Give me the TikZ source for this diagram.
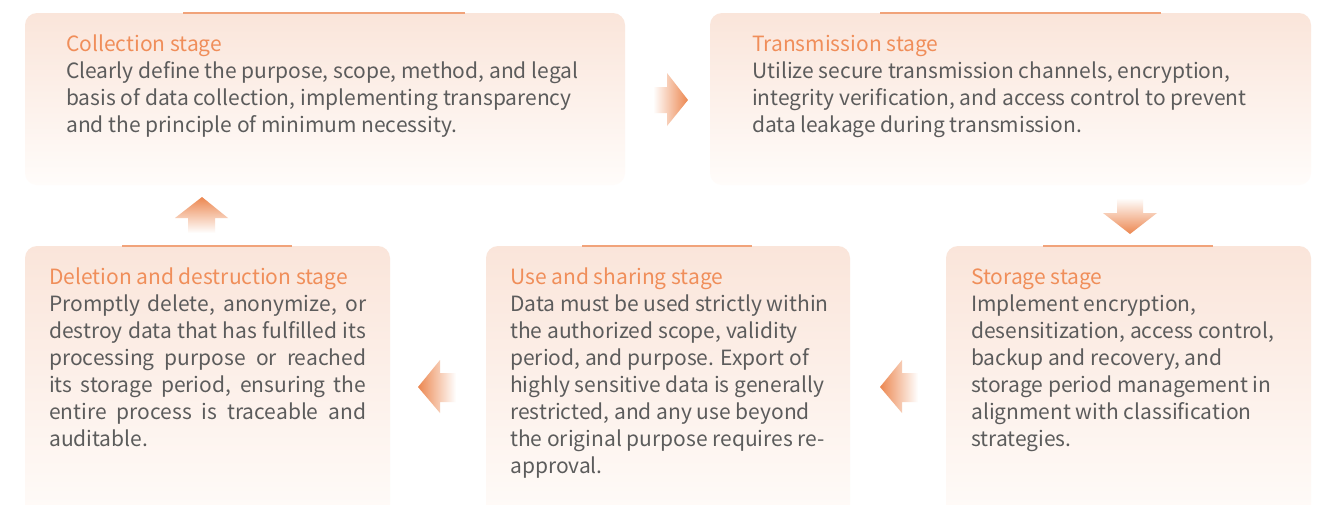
\documentclass[tikz,border=0pt]{standalone}
\usepackage{fontspec}
\setmainfont{Noto Sans CJK SC}
\definecolor{peach}{RGB}{250,229,218}
\definecolor{peachlow}{RGB}{255,252,250}
\definecolor{accent}{RGB}{241,163,122}
\definecolor{titlec}{RGB}{240,142,90}
\definecolor{bodyc}{RGB}{92,92,92}
\definecolor{arrowc}{RGB}{236,135,80}
\tikzset{
  stagebox/.style={rounded corners=12pt, top color=peach, bottom color=peachlow, draw=none},
  topline/.style={draw=accent, line width=2pt},
  txt/.style={anchor=north west, align=left, inner sep=0pt, text=bodyc, font=\fontsize{21}{27}\selectfont},
}
\newcommand{\jl}[1]{\makebox[317pt][s]{#1}}
\newcommand{\st}{\rule{0pt}{20pt}}
\begin{document}
\begin{tikzpicture}[x=1pt,y=-1pt]
\useasboundingbox (0,0) rectangle (1322,504);
\clip (0,0) rectangle (1322,504);
\fill[white] (0,0) rectangle (1322,504);
% boxes
\path[stagebox] (25,13) rectangle (625,185);
\path[stagebox] (710,13) rectangle (1311,185);
\path[stagebox] (25,246) rectangle (390,530);
\path[stagebox] (486,246) rectangle (850,530);
\path[stagebox] (946,246) rectangle (1311,530);
% top lines
\draw[topline] (183,13) -- (465,13);
\draw[topline] (880,13) -- (1161,13);
\draw[topline] (122,246) -- (292,246);
\draw[topline] (582,246) -- (752,246);
\draw[topline] (1043,246) -- (1213,246);
% texts
\node[txt] (t1) at (66,31) {\st\textcolor{titlec}{Collection stage}\\
Clearly define the purpose, scope, method, and legal\\
basis of data collection, implementing transparency\\
and the principle of minimum necessity.};
\node[txt] (t2) at (752,31) {\st\textcolor{titlec}{Transmission stage}\\
Utilize secure transmission channels, encryption,\\
integrity verification, and access control to prevent\\
data leakage during transmission.};
\node[txt] (t3) at (49,264) {\st\textcolor{titlec}{Deletion and destruction stage}\\
\jl{Promptly delete, anonymize, or}\\
\jl{destroy data that has fulfilled its}\\
\jl{processing purpose or reached}\\
\jl{its storage period, ensuring the}\\
\jl{entire process is traceable and}\\
auditable.};
\node[txt] (t4) at (510,264) {\st\textcolor{titlec}{Use and sharing stage}\\
Data must be used strictly within\\
the authorized scope, validity\\
period, and purpose. Export of\\
highly sensitive data is generally\\
restricted, and any use beyond\\
the original purpose requires re-\\
approval.};
\node[txt] (t5) at (971,264) {\st\textcolor{titlec}{Storage stage}\\
Implement encryption,\\
desensitization, access control,\\
backup and recovery, and\\
storage period management in\\
alignment with classification\\
strategies.};
% arrows
\shade[left color=white, right color=arrowc] (653,87) -- (667,87) -- (667,73) -- (688,100) -- (667,126) -- (667,113) -- (653,113) -- cycle;
\shade[top color=white, bottom color=arrowc] (1117,198) -- (1143,198) -- (1143,213) -- (1157,213) -- (1130,234) -- (1103,213) -- (1117,213) -- cycle;
\shade[top color=arrowc, bottom color=white] (202,197) -- (228,218) -- (215,218) -- (215,233) -- (188,233) -- (188,218) -- (175,218) -- cycle;
\shade[left color=arrowc, right color=white] (880,387) -- (902,360) -- (902,373) -- (918,373) -- (918,402) -- (902,402) -- (902,413) -- cycle;
\shade[left color=arrowc, right color=white] (418,387) -- (440,360) -- (440,373) -- (456,373) -- (456,402) -- (440,402) -- (440,413) -- cycle;
\end{tikzpicture}
\end{document}
